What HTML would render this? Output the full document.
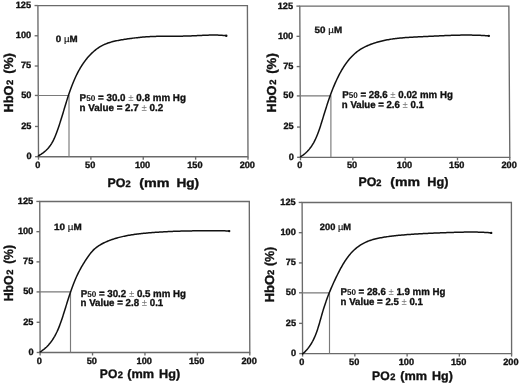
<!DOCTYPE html>
<html><head><meta charset="utf-8"><style>
html,body{margin:0;padding:0;background:#fff;}
svg{display:block;}
text{font-family:'Liberation Sans', sans-serif;text-rendering:geometricPrecision;font-weight:bold;fill:#111;stroke:#111;stroke-width:0.35px;stroke-linejoin:round;}
.tk{font-size:9.2px;}
.an{font-size:10px;}
.cn{font-size:9.2px;}
.ax{font-size:12.3px;}
.yt{font-size:13px;}
.sub{font-size:8.4px;font-weight:bold;stroke-width:0.05px;}
.s2{font-size:9.3px;}
.mu{font-weight:normal;stroke-width:0.15px;}
.pm{font-weight:normal;fill:#777;stroke:none;}
</style></head><body>
<svg width="520" height="384" viewBox="0 0 520 384">
<rect width="520" height="384" fill="#fff"/>
<path d="M37.90,5.55L38.50,156.70H248.00L247.40,5.55Z" fill="none" stroke="#6a6a6a" stroke-width="1.35" stroke-linejoin="miter"/>
<path d="M35.10,156.70H38.50" stroke="#6a6a6a" stroke-width="1.35"/>
<text id="p0y0" x="31.60" y="159.10" class="tk" text-anchor="end">0</text>
<path d="M34.98,126.47H38.38" stroke="#6a6a6a" stroke-width="1.35"/>
<text id="p0y25" x="31.48" y="128.87" class="tk" text-anchor="end">25</text>
<path d="M34.86,95.45H38.26" stroke="#6a6a6a" stroke-width="1.35"/>
<text id="p0y50" x="31.36" y="97.85" class="tk" text-anchor="end">50</text>
<path d="M34.74,66.01H38.14" stroke="#6a6a6a" stroke-width="1.35"/>
<text id="p0y75" x="31.24" y="68.41" class="tk" text-anchor="end">75</text>
<path d="M34.62,35.78H38.02" stroke="#6a6a6a" stroke-width="1.35"/>
<text id="p0y100" x="31.12" y="38.18" class="tk" text-anchor="end">100</text>
<path d="M34.50,5.55H37.90" stroke="#6a6a6a" stroke-width="1.35"/>
<text id="p0y125" x="31.00" y="7.95" class="tk" text-anchor="end">125</text>
<path d="M38.50,156.70V159.70" stroke="#6a6a6a" stroke-width="1.35"/>
<text id="p0x0" x="37.80" y="167.85" class="tk" text-anchor="middle">0</text>
<path d="M90.88,156.70V159.70" stroke="#6a6a6a" stroke-width="1.35"/>
<text id="p0x50" x="90.17" y="167.85" class="tk" text-anchor="middle">50</text>
<path d="M143.25,156.70V159.70" stroke="#6a6a6a" stroke-width="1.35"/>
<text id="p0x100" x="142.55" y="167.85" class="tk" text-anchor="middle">100</text>
<path d="M195.63,156.70V159.70" stroke="#6a6a6a" stroke-width="1.35"/>
<text id="p0x150" x="194.93" y="167.85" class="tk" text-anchor="middle">150</text>
<path d="M248.00,156.70V159.70" stroke="#6a6a6a" stroke-width="1.35"/>
<text id="p0x200" x="247.30" y="167.85" class="tk" text-anchor="middle">200</text>
<path d="M38.26,95.45H69.00V156.70" fill="none" stroke="#7a7a7a" stroke-width="1.15"/>
<polyline points="38.40,155.79 39.40,155.24 40.36,154.67 41.31,154.08 42.22,153.45 43.11,152.81 43.98,152.14 44.82,151.45 45.63,150.74 46.41,150.00 47.17,149.24 47.90,148.47 48.60,147.67 49.28,146.85 49.92,146.00 50.54,145.14 51.13,144.26 51.69,143.37 52.22,142.45 52.73,141.52 53.22,140.58 53.69,139.63 54.14,138.66 54.57,137.68 54.99,136.70 55.40,135.71 55.79,134.72 56.18,133.72 56.56,132.71 56.93,131.71 57.30,130.71 57.66,129.70 58.02,128.69 58.37,127.68 58.71,126.67 59.05,125.66 59.39,124.64 59.72,123.63 60.05,122.61 60.38,121.60 60.70,120.58 61.02,119.56 61.34,118.54 61.65,117.52 61.97,116.50 62.28,115.48 62.59,114.46 62.90,113.43 63.21,112.41 63.51,111.39 63.82,110.36 64.13,109.34 64.43,108.32 64.74,107.29 65.05,106.27 65.36,105.25 65.67,104.22 65.98,103.20 66.30,102.18 66.61,101.15 66.93,100.13 67.25,99.11 67.58,98.09 67.90,97.07 68.24,96.05 68.57,95.04 68.91,94.02 69.25,93.00 69.60,91.99 69.96,90.97 70.32,89.96 70.68,88.95 71.05,87.94 71.43,86.93 71.81,85.93 72.20,84.92 72.60,83.92 73.00,82.92 73.41,81.92 73.83,80.92 74.25,79.93 74.69,78.94 75.13,77.95 75.58,76.97 76.04,75.99 76.51,75.02 76.99,74.05 77.48,73.09 77.97,72.13 78.48,71.18 79.00,70.24 79.53,69.30 80.06,68.37 80.61,67.44 81.17,66.53 81.74,65.62 82.33,64.72 82.92,63.83 83.52,62.94 84.14,62.07 84.77,61.20 85.42,60.35 86.07,59.50 86.74,58.67 87.42,57.85 88.12,57.03 88.83,56.23 89.55,55.44 90.29,54.67 91.04,53.90 91.80,53.16 92.58,52.42 93.37,51.70 94.18,51.00 95.00,50.32 95.83,49.65 96.68,49.01 97.54,48.38 98.41,47.78 99.30,47.20 100.20,46.64 101.12,46.11 102.05,45.60 102.99,45.11 103.95,44.65 104.91,44.22 105.89,43.82 106.89,43.43 107.89,43.07 108.90,42.73 109.92,42.41 110.95,42.11 111.99,41.83 113.03,41.56 114.08,41.31 115.14,41.07 116.20,40.84 117.26,40.63 118.33,40.43 119.40,40.23 120.47,40.04 121.54,39.86 122.61,39.68 123.68,39.51 124.74,39.34 125.81,39.18 126.88,39.02 127.94,38.86 129.01,38.71 130.07,38.56 131.13,38.41 132.19,38.27 133.26,38.13 134.32,38.00 135.38,37.87 136.44,37.75 137.50,37.63 138.56,37.51 139.62,37.40 140.68,37.30 141.74,37.20 142.80,37.11 143.87,37.02 144.93,36.93 145.99,36.86 147.06,36.78 148.12,36.72 149.19,36.66 150.25,36.60 151.32,36.55 152.39,36.51 153.46,36.46 154.53,36.43 155.60,36.40 156.67,36.37 157.74,36.34 158.81,36.32 159.88,36.30 160.96,36.29 162.03,36.27 163.10,36.26 164.18,36.25 165.25,36.24 166.32,36.24 167.40,36.23 168.47,36.23 169.55,36.23 170.62,36.22 171.70,36.22 172.77,36.22 173.85,36.21 174.92,36.21 176.00,36.20 177.07,36.20 178.15,36.19 179.22,36.18 180.30,36.17 181.37,36.15 182.45,36.14 183.52,36.12 184.59,36.10 185.67,36.07 186.74,36.04 187.81,36.01 188.88,35.97 189.95,35.93 191.02,35.89 192.09,35.84 193.16,35.79 194.23,35.74 195.30,35.69 196.37,35.64 197.43,35.59 198.50,35.53 199.57,35.48 200.64,35.43 201.70,35.38 202.77,35.33 203.84,35.29 204.91,35.24 205.97,35.21 207.04,35.17 208.11,35.14 209.18,35.11 210.25,35.09 211.31,35.07 212.38,35.06 213.45,35.06 214.52,35.06 215.59,35.08 216.66,35.10 217.73,35.12 218.80,35.16 219.87,35.20 220.94,35.26 222.02,35.32 223.09,35.40 224.16,35.49 225.24,35.59 226.31,35.70" fill="none" stroke="#111" stroke-width="1.5" stroke-linejoin="round" stroke-linecap="round"/>
<circle cx="226.30" cy="35.75" r="1.2" fill="#111"/>
<text id="p0c" x="55.77" y="42.14" class="cn" textLength="21.89" lengthAdjust="spacingAndGlyphs">0 <tspan class="mu">µ</tspan>M</text>
<text id="p0a1" x="79.62" y="100.83" class="an" textLength="106.27" lengthAdjust="spacingAndGlyphs">P<tspan class="sub">50</tspan> = 30.0 <tspan class="pm">±</tspan> 0.8 mm Hg</text>
<text id="p0a2" x="79.52" y="111.26" class="an" textLength="83.77" lengthAdjust="spacingAndGlyphs">n Value = 2.7 <tspan class="pm">±</tspan> 0.2</text>
<text id="p0xtPO" x="107.43" y="186.68" class="ax" textLength="17.92" lengthAdjust="spacingAndGlyphs">PO</text>
<text id="p0xt2" x="125.44" y="186.68" class="ax s2">2</text>
<text id="p0xtmm" x="139.25" y="186.68" class="ax" textLength="30.31" lengthAdjust="spacingAndGlyphs">(mm</text>
<text id="p0xtHg" x="176.43" y="186.68" class="ax" textLength="22.76" lengthAdjust="spacingAndGlyphs">Hg)</text>
<text id="p0ytHb" x="-112.54" y="13.03" class="yt" textLength="27.00" lengthAdjust="spacingAndGlyphs" transform="rotate(-90)">HbO</text>
<text id="p0yt2" x="-85.05" y="13.03" class="yt s2" transform="rotate(-90)">2</text>
<text id="p0ytp" x="-73.78" y="13.03" class="yt" textLength="20.80" lengthAdjust="spacingAndGlyphs" transform="rotate(-90)">(%)</text>
<path d="M299.80,6.10L300.50,157.30H509.80L508.85,6.10Z" fill="none" stroke="#6a6a6a" stroke-width="1.35" stroke-linejoin="miter"/>
<path d="M297.10,157.30H300.50" stroke="#6a6a6a" stroke-width="1.35"/>
<text id="p1y0" x="293.80" y="159.70" class="tk" text-anchor="end">0</text>
<path d="M296.96,127.06H300.36" stroke="#6a6a6a" stroke-width="1.35"/>
<text id="p1y25" x="293.66" y="129.46" class="tk" text-anchor="end">25</text>
<path d="M296.82,95.90H300.22" stroke="#6a6a6a" stroke-width="1.35"/>
<text id="p1y50" x="293.52" y="98.30" class="tk" text-anchor="end">50</text>
<path d="M296.68,66.58H300.08" stroke="#6a6a6a" stroke-width="1.35"/>
<text id="p1y75" x="293.38" y="68.98" class="tk" text-anchor="end">75</text>
<path d="M296.54,36.34H299.94" stroke="#6a6a6a" stroke-width="1.35"/>
<text id="p1y100" x="293.24" y="38.74" class="tk" text-anchor="end">100</text>
<path d="M296.40,6.10H299.80" stroke="#6a6a6a" stroke-width="1.35"/>
<text id="p1y125" x="293.10" y="8.50" class="tk" text-anchor="end">125</text>
<path d="M300.50,157.30V160.30" stroke="#6a6a6a" stroke-width="1.35"/>
<text id="p1x0" x="299.80" y="168.45" class="tk" text-anchor="middle">0</text>
<path d="M352.82,157.30V160.30" stroke="#6a6a6a" stroke-width="1.35"/>
<text id="p1x50" x="352.12" y="168.45" class="tk" text-anchor="middle">50</text>
<path d="M405.15,157.30V160.30" stroke="#6a6a6a" stroke-width="1.35"/>
<text id="p1x100" x="404.45" y="168.45" class="tk" text-anchor="middle">100</text>
<path d="M457.48,157.30V160.30" stroke="#6a6a6a" stroke-width="1.35"/>
<text id="p1x150" x="456.78" y="168.45" class="tk" text-anchor="middle">150</text>
<path d="M509.80,157.30V160.30" stroke="#6a6a6a" stroke-width="1.35"/>
<text id="p1x200" x="509.10" y="168.45" class="tk" text-anchor="middle">200</text>
<path d="M300.22,95.90H330.90V157.30" fill="none" stroke="#7a7a7a" stroke-width="1.15"/>
<polyline points="300.61,156.74 301.57,156.13 302.49,155.49 303.38,154.84 304.24,154.16 305.08,153.46 305.88,152.74 306.66,152.00 307.41,151.25 308.13,150.47 308.83,149.68 309.51,148.87 310.16,148.04 310.79,147.20 311.39,146.34 311.98,145.47 312.54,144.58 313.09,143.68 313.62,142.77 314.13,141.84 314.62,140.91 315.10,139.96 315.56,139.00 316.00,138.03 316.43,137.06 316.85,136.07 317.26,135.08 317.66,134.08 318.04,133.08 318.41,132.07 318.78,131.05 319.14,130.03 319.49,129.00 319.83,127.97 320.17,126.94 320.50,125.91 320.83,124.88 321.15,123.84 321.47,122.80 321.79,121.77 322.11,120.73 322.43,119.70 322.74,118.67 323.06,117.64 323.38,116.61 323.69,115.58 324.01,114.55 324.33,113.53 324.65,112.50 324.96,111.48 325.28,110.46 325.60,109.43 325.93,108.41 326.25,107.40 326.58,106.38 326.90,105.36 327.23,104.35 327.57,103.34 327.90,102.33 328.24,101.32 328.58,100.31 328.92,99.30 329.27,98.29 329.62,97.29 329.98,96.29 330.34,95.29 330.70,94.29 331.07,93.29 331.44,92.29 331.82,91.30 332.21,90.31 332.59,89.31 332.99,88.32 333.39,87.34 333.79,86.35 334.21,85.36 334.62,84.38 335.05,83.40 335.48,82.42 335.92,81.44 336.37,80.47 336.82,79.49 337.28,78.52 337.75,77.55 338.22,76.58 338.71,75.62 339.20,74.66 339.71,73.70 340.22,72.75 340.74,71.80 341.27,70.86 341.81,69.93 342.37,69.00 342.93,68.08 343.50,67.16 344.09,66.26 344.68,65.36 345.29,64.47 345.91,63.59 346.54,62.72 347.19,61.85 347.84,61.00 348.51,60.16 349.20,59.34 349.89,58.52 350.60,57.72 351.33,56.93 352.07,56.16 352.82,55.41 353.59,54.67 354.37,53.95 355.17,53.24 355.98,52.56 356.81,51.89 357.65,51.25 358.51,50.63 359.38,50.03 360.27,49.45 361.18,48.89 362.10,48.35 363.03,47.83 363.97,47.33 364.92,46.85 365.88,46.39 366.85,45.95 367.83,45.52 368.82,45.10 369.81,44.70 370.80,44.32 371.80,43.95 372.80,43.59 373.80,43.25 374.81,42.91 375.83,42.60 376.84,42.29 377.86,41.99 378.89,41.71 379.91,41.44 380.94,41.18 381.98,40.93 383.01,40.69 384.05,40.47 385.09,40.25 386.14,40.04 387.19,39.84 388.24,39.65 389.29,39.47 390.34,39.30 391.40,39.13 392.46,38.98 393.52,38.83 394.58,38.69 395.64,38.55 396.71,38.42 397.77,38.30 398.84,38.19 399.91,38.08 400.98,37.98 402.06,37.88 403.13,37.79 404.21,37.70 405.28,37.62 406.36,37.54 407.43,37.46 408.51,37.39 409.59,37.32 410.67,37.26 411.75,37.20 412.83,37.14 413.90,37.08 414.98,37.02 416.06,36.97 417.14,36.92 418.22,36.87 419.30,36.82 420.37,36.76 421.45,36.71 422.53,36.66 423.60,36.61 424.68,36.56 425.75,36.51 426.82,36.46 427.89,36.40 428.96,36.35 430.03,36.30 431.10,36.24 432.17,36.19 433.24,36.14 434.31,36.09 435.38,36.03 436.44,35.98 437.51,35.93 438.58,35.88 439.64,35.83 440.71,35.78 441.77,35.73 442.84,35.68 443.90,35.64 444.97,35.59 446.03,35.55 447.10,35.51 448.16,35.47 449.22,35.43 450.29,35.39 451.35,35.35 452.42,35.32 453.48,35.29 454.54,35.25 455.61,35.23 456.67,35.20 457.74,35.18 458.80,35.15 459.87,35.14 460.93,35.12 462.00,35.10 463.07,35.09 464.13,35.08 465.20,35.08 466.27,35.08 467.34,35.08 468.40,35.08 469.47,35.09 470.54,35.10 471.61,35.11 472.69,35.13 473.76,35.15 474.83,35.17 475.90,35.20 476.98,35.24 478.05,35.27 479.13,35.31 480.21,35.36 481.29,35.41 482.36,35.46 483.45,35.52 484.53,35.58 485.61,35.65 486.69,35.72 487.78,35.79 488.86,35.88" fill="none" stroke="#111" stroke-width="1.5" stroke-linejoin="round" stroke-linecap="round"/>
<circle cx="488.80" cy="35.85" r="1.2" fill="#111"/>
<text id="p1c" x="314.61" y="33.03" class="cn" textLength="27.48" lengthAdjust="spacingAndGlyphs">50 <tspan class="mu">µ</tspan>M</text>
<text id="p1a1" x="342.17" y="97.64" class="an" textLength="110.66" lengthAdjust="spacingAndGlyphs">P<tspan class="sub">50</tspan> = 28.6 <tspan class="pm">±</tspan> 0.02 mm Hg</text>
<text id="p1a2" x="341.83" y="107.54" class="an" textLength="82.10" lengthAdjust="spacingAndGlyphs">n Value = 2.6 <tspan class="pm">±</tspan> 0.1</text>
<text id="p1xtPO" x="358.42" y="185.96" class="ax" textLength="17.88" lengthAdjust="spacingAndGlyphs">PO</text>
<text id="p1xt2" x="376.37" y="185.96" class="ax s2">2</text>
<text id="p1xtmm" x="390.22" y="185.96" class="ax" textLength="29.76" lengthAdjust="spacingAndGlyphs">(mm</text>
<text id="p1xtHg" x="427.37" y="185.96" class="ax" textLength="21.13" lengthAdjust="spacingAndGlyphs">Hg)</text>
<text id="p1ytHb" x="-112.54" y="276.03" class="yt" textLength="27.00" lengthAdjust="spacingAndGlyphs" transform="rotate(-90)">HbO</text>
<text id="p1yt2" x="-84.87" y="276.03" class="yt s2" transform="rotate(-90)">2</text>
<text id="p1ytp" x="-73.81" y="276.03" class="yt" textLength="20.59" lengthAdjust="spacingAndGlyphs" transform="rotate(-90)">(%)</text>
<path d="M39.75,201.45L40.10,352.50H249.80L249.30,201.45Z" fill="none" stroke="#6a6a6a" stroke-width="1.35" stroke-linejoin="miter"/>
<path d="M36.70,352.50H40.10" stroke="#6a6a6a" stroke-width="1.35"/>
<text id="p2y0" x="33.50" y="354.90" class="tk" text-anchor="end">0</text>
<path d="M36.63,322.29H40.03" stroke="#6a6a6a" stroke-width="1.35"/>
<text id="p2y25" x="33.43" y="324.69" class="tk" text-anchor="end">25</text>
<path d="M36.56,291.90H39.96" stroke="#6a6a6a" stroke-width="1.35"/>
<text id="p2y50" x="33.36" y="294.30" class="tk" text-anchor="end">50</text>
<path d="M36.49,261.87H39.89" stroke="#6a6a6a" stroke-width="1.35"/>
<text id="p2y75" x="33.29" y="264.27" class="tk" text-anchor="end">75</text>
<path d="M36.42,231.66H39.82" stroke="#6a6a6a" stroke-width="1.35"/>
<text id="p2y100" x="33.22" y="234.06" class="tk" text-anchor="end">100</text>
<path d="M36.35,201.45H39.75" stroke="#6a6a6a" stroke-width="1.35"/>
<text id="p2y125" x="33.15" y="203.85" class="tk" text-anchor="end">125</text>
<path d="M40.10,352.50V355.50" stroke="#6a6a6a" stroke-width="1.35"/>
<text id="p2x0" x="39.40" y="363.65" class="tk" text-anchor="middle">0</text>
<path d="M92.53,352.50V355.50" stroke="#6a6a6a" stroke-width="1.35"/>
<text id="p2x50" x="91.83" y="363.65" class="tk" text-anchor="middle">50</text>
<path d="M144.95,352.50V355.50" stroke="#6a6a6a" stroke-width="1.35"/>
<text id="p2x100" x="144.25" y="363.65" class="tk" text-anchor="middle">100</text>
<path d="M197.38,352.50V355.50" stroke="#6a6a6a" stroke-width="1.35"/>
<text id="p2x150" x="196.68" y="363.65" class="tk" text-anchor="middle">150</text>
<path d="M249.80,352.50V355.50" stroke="#6a6a6a" stroke-width="1.35"/>
<text id="p2x200" x="249.10" y="363.65" class="tk" text-anchor="middle">200</text>
<path d="M39.96,291.90H70.50V352.50" fill="none" stroke="#7a7a7a" stroke-width="1.15"/>
<polyline points="40.20,351.87 41.15,351.26 42.07,350.63 42.97,349.98 43.84,349.31 44.68,348.62 45.50,347.91 46.30,347.18 47.07,346.43 47.81,345.67 48.54,344.89 49.24,344.09 49.92,343.28 50.58,342.45 51.22,341.61 51.84,340.76 52.44,339.89 53.02,339.00 53.58,338.11 54.13,337.20 54.66,336.29 55.17,335.36 55.67,334.42 56.16,333.47 56.63,332.51 57.09,331.55 57.53,330.57 57.97,329.59 58.39,328.61 58.80,327.61 59.20,326.61 59.59,325.61 59.97,324.60 60.35,323.58 60.71,322.56 61.07,321.54 61.43,320.52 61.78,319.49 62.12,318.47 62.46,317.44 62.79,316.41 63.12,315.38 63.45,314.35 63.78,313.33 64.10,312.30 64.42,311.27 64.74,310.25 65.06,309.22 65.38,308.19 65.70,307.17 66.01,306.14 66.33,305.12 66.65,304.10 66.96,303.08 67.28,302.06 67.60,301.04 67.92,300.02 68.24,299.00 68.57,297.98 68.89,296.97 69.22,295.95 69.55,294.94 69.89,293.93 70.23,292.92 70.57,291.91 70.92,290.91 71.27,289.90 71.62,288.90 71.98,287.90 72.35,286.90 72.72,285.90 73.10,284.91 73.48,283.91 73.87,282.92 74.27,281.93 74.68,280.95 75.09,279.96 75.51,278.98 75.94,278.00 76.38,277.03 76.82,276.05 77.28,275.08 77.74,274.12 78.21,273.15 78.70,272.19 79.19,271.23 79.69,270.27 80.20,269.32 80.72,268.37 81.25,267.43 81.79,266.49 82.33,265.55 82.89,264.62 83.45,263.69 84.01,262.77 84.59,261.85 85.17,260.94 85.76,260.03 86.36,259.13 86.96,258.24 87.56,257.35 88.18,256.46 88.80,255.59 89.43,254.73 90.07,253.87 90.73,253.04 91.41,252.22 92.10,251.42 92.81,250.64 93.55,249.89 94.31,249.16 95.10,248.46 95.91,247.79 96.74,247.14 97.60,246.52 98.48,245.92 99.37,245.35 100.29,244.79 101.21,244.26 102.16,243.75 103.11,243.26 104.08,242.79 105.05,242.33 106.03,241.89 107.02,241.46 108.02,241.05 109.01,240.65 110.02,240.27 111.02,239.90 112.03,239.54 113.04,239.20 114.06,238.87 115.08,238.55 116.11,238.24 117.13,237.94 118.16,237.65 119.20,237.38 120.23,237.12 121.27,236.86 122.31,236.62 123.36,236.38 124.40,236.16 125.45,235.94 126.50,235.73 127.55,235.53 128.61,235.34 129.67,235.16 130.72,234.99 131.78,234.82 132.85,234.66 133.91,234.50 134.97,234.35 136.04,234.21 137.11,234.08 138.17,233.94 139.24,233.82 140.31,233.70 141.38,233.58 142.45,233.47 143.52,233.36 144.60,233.26 145.67,233.16 146.74,233.06 147.81,232.96 148.88,232.87 149.95,232.78 151.02,232.69 152.09,232.61 153.17,232.53 154.24,232.44 155.31,232.37 156.38,232.29 157.45,232.22 158.52,232.14 159.59,232.08 160.66,232.01 161.73,231.94 162.80,231.88 163.87,231.82 164.94,231.76 166.01,231.70 167.08,231.65 168.15,231.60 169.22,231.55 170.29,231.50 171.36,231.45 172.42,231.40 173.49,231.36 174.56,231.32 175.63,231.28 176.70,231.24 177.77,231.21 178.84,231.17 179.91,231.14 180.98,231.11 182.05,231.08 183.12,231.05 184.19,231.02 185.26,231.00 186.33,230.97 187.40,230.95 188.47,230.93 189.54,230.91 190.61,230.89 191.68,230.88 192.75,230.86 193.82,230.85 194.89,230.83 195.96,230.82 197.03,230.81 198.10,230.80 199.17,230.80 200.24,230.79 201.31,230.78 202.38,230.78 203.46,230.77 204.53,230.77 205.60,230.77 206.67,230.77 207.74,230.77 208.81,230.77 209.89,230.77 210.96,230.77 212.03,230.78 213.10,230.78 214.18,230.79 215.25,230.79 216.32,230.80 217.40,230.81 218.47,230.81 219.55,230.82 220.62,230.83 221.70,230.84 222.77,230.85 223.85,230.86 224.92,230.87 226.00,230.88 227.07,230.89 228.15,230.91 229.23,230.92" fill="none" stroke="#111" stroke-width="1.5" stroke-linejoin="round" stroke-linecap="round"/>
<circle cx="229.20" cy="231.10" r="1.2" fill="#111"/>
<text id="p2c" x="53.93" y="229.57" class="cn" textLength="27.74" lengthAdjust="spacingAndGlyphs">10 <tspan class="mu">µ</tspan>M</text>
<text id="p2a1" x="80.66" y="297.19" class="an" textLength="105.40" lengthAdjust="spacingAndGlyphs">P<tspan class="sub">50</tspan> = 30.2 <tspan class="pm">±</tspan> 0.5 mm Hg</text>
<text id="p2a2" x="80.50" y="306.37" class="an" textLength="82.77" lengthAdjust="spacingAndGlyphs">n Value = 2.8 <tspan class="pm">±</tspan> 0.1</text>
<text id="p2xtPO" x="99.85" y="378.24" class="ax" textLength="17.42" lengthAdjust="spacingAndGlyphs">PO</text>
<text id="p2xt2" x="117.65" y="378.24" class="ax s2">2</text>
<text id="p2xtmm" x="127.35" y="378.24" class="ax" textLength="26.83" lengthAdjust="spacingAndGlyphs">(mm</text>
<text id="p2xtHg" x="159.02" y="378.24" class="ax" textLength="21.12" lengthAdjust="spacingAndGlyphs">Hg)</text>
<text id="p2ytHb" x="-301.27" y="13.45" class="yt" textLength="25.78" lengthAdjust="spacingAndGlyphs" transform="rotate(-90)">HbO</text>
<text id="p2yt2" x="-274.77" y="13.45" class="yt s2" transform="rotate(-90)">2</text>
<text id="p2ytp" x="-263.67" y="13.45" class="yt" textLength="18.58" lengthAdjust="spacingAndGlyphs" transform="rotate(-90)">(%)</text>
<path d="M302.10,202.45L302.60,353.60H511.60L511.40,202.45Z" fill="none" stroke="#6a6a6a" stroke-width="1.35" stroke-linejoin="miter"/>
<path d="M299.20,353.60H302.60" stroke="#6a6a6a" stroke-width="1.35"/>
<text id="p3y0" x="296.20" y="356.00" class="tk" text-anchor="end">0</text>
<path d="M299.10,323.37H302.50" stroke="#6a6a6a" stroke-width="1.35"/>
<text id="p3y25" x="296.10" y="325.77" class="tk" text-anchor="end">25</text>
<path d="M299.00,292.80H302.40" stroke="#6a6a6a" stroke-width="1.35"/>
<text id="p3y50" x="296.00" y="295.20" class="tk" text-anchor="end">50</text>
<path d="M298.90,262.91H302.30" stroke="#6a6a6a" stroke-width="1.35"/>
<text id="p3y75" x="295.90" y="265.31" class="tk" text-anchor="end">75</text>
<path d="M298.80,232.68H302.20" stroke="#6a6a6a" stroke-width="1.35"/>
<text id="p3y100" x="295.80" y="235.08" class="tk" text-anchor="end">100</text>
<path d="M298.70,202.45H302.10" stroke="#6a6a6a" stroke-width="1.35"/>
<text id="p3y125" x="295.70" y="204.85" class="tk" text-anchor="end">125</text>
<path d="M302.60,353.60V356.60" stroke="#6a6a6a" stroke-width="1.35"/>
<text id="p3x0" x="301.90" y="364.75" class="tk" text-anchor="middle">0</text>
<path d="M354.85,353.60V356.60" stroke="#6a6a6a" stroke-width="1.35"/>
<text id="p3x50" x="354.15" y="364.75" class="tk" text-anchor="middle">50</text>
<path d="M407.10,353.60V356.60" stroke="#6a6a6a" stroke-width="1.35"/>
<text id="p3x100" x="406.40" y="364.75" class="tk" text-anchor="middle">100</text>
<path d="M459.35,353.60V356.60" stroke="#6a6a6a" stroke-width="1.35"/>
<text id="p3x150" x="458.65" y="364.75" class="tk" text-anchor="middle">150</text>
<path d="M511.60,353.60V356.60" stroke="#6a6a6a" stroke-width="1.35"/>
<text id="p3x200" x="510.90" y="364.75" class="tk" text-anchor="middle">200</text>
<path d="M302.40,292.80H329.50V353.60" fill="none" stroke="#7a7a7a" stroke-width="1.15"/>
<polyline points="302.65,353.88 303.49,353.14 304.31,352.39 305.10,351.62 305.86,350.83 306.60,350.03 307.30,349.21 307.99,348.38 308.65,347.53 309.28,346.67 309.89,345.80 310.48,344.91 311.05,344.02 311.59,343.11 312.12,342.19 312.63,341.26 313.12,340.31 313.59,339.36 314.05,338.40 314.49,337.43 314.91,336.45 315.32,335.47 315.72,334.47 316.11,333.47 316.48,332.47 316.84,331.45 317.20,330.43 317.54,329.41 317.87,328.38 318.20,327.35 318.52,326.31 318.83,325.27 319.14,324.23 319.45,323.18 319.75,322.13 320.05,321.08 320.34,320.03 320.64,318.98 320.93,317.93 321.23,316.88 321.52,315.83 321.82,314.78 322.12,313.73 322.42,312.69 322.73,311.65 323.05,310.61 323.36,309.57 323.68,308.54 324.01,307.50 324.34,306.48 324.68,305.45 325.02,304.43 325.36,303.40 325.71,302.39 326.06,301.37 326.42,300.36 326.79,299.35 327.15,298.34 327.53,297.33 327.90,296.33 328.29,295.33 328.67,294.33 329.06,293.33 329.46,292.34 329.86,291.35 330.27,290.36 330.68,289.37 331.10,288.39 331.52,287.41 331.94,286.42 332.37,285.45 332.81,284.47 333.25,283.49 333.69,282.52 334.14,281.54 334.60,280.57 335.05,279.60 335.52,278.63 335.99,277.66 336.46,276.68 336.93,275.72 337.41,274.75 337.90,273.78 338.39,272.81 338.88,271.84 339.39,270.87 339.89,269.90 340.40,268.94 340.92,267.98 341.45,267.02 341.98,266.07 342.53,265.13 343.08,264.19 343.64,263.25 344.21,262.33 344.80,261.41 345.39,260.50 346.00,259.60 346.61,258.71 347.24,257.83 347.89,256.96 348.55,256.11 349.22,255.26 349.90,254.43 350.60,253.62 351.32,252.82 352.06,252.03 352.80,251.27 353.57,250.51 354.35,249.78 355.15,249.06 355.96,248.37 356.79,247.69 357.63,247.03 358.49,246.39 359.36,245.78 360.25,245.19 361.15,244.62 362.06,244.07 362.99,243.55 363.93,243.05 364.89,242.58 365.85,242.13 366.83,241.70 367.82,241.30 368.82,240.92 369.83,240.56 370.85,240.22 371.88,239.89 372.91,239.59 373.95,239.30 375.00,239.02 376.05,238.77 377.11,238.52 378.17,238.29 379.24,238.07 380.31,237.86 381.38,237.66 382.45,237.47 383.52,237.29 384.59,237.11 385.66,236.94 386.74,236.78 387.81,236.63 388.88,236.48 389.96,236.34 391.03,236.20 392.11,236.07 393.18,235.94 394.25,235.82 395.33,235.70 396.40,235.59 397.48,235.48 398.55,235.37 399.63,235.27 400.70,235.17 401.77,235.07 402.85,234.98 403.92,234.88 405.00,234.79 406.07,234.71 407.15,234.62 408.22,234.54 409.30,234.46 410.37,234.38 411.45,234.30 412.52,234.23 413.60,234.16 414.67,234.09 415.75,234.02 416.82,233.95 417.90,233.89 418.97,233.83 420.05,233.77 421.12,233.71 422.20,233.65 423.27,233.59 424.35,233.54 425.43,233.49 426.50,233.43 427.58,233.38 428.65,233.33 429.73,233.29 430.81,233.24 431.88,233.19 432.96,233.15 434.04,233.10 435.11,233.06 436.19,233.02 437.27,232.98 438.35,232.93 439.42,232.89 440.50,232.85 441.58,232.81 442.66,232.78 443.74,232.74 444.81,232.70 445.89,232.66 446.97,232.62 448.05,232.59 449.13,232.55 450.21,232.51 451.29,232.47 452.37,232.44 453.45,232.40 454.53,232.37 455.61,232.33 456.69,232.30 457.77,232.27 458.85,232.24 459.93,232.21 461.01,232.18 462.09,232.16 463.17,232.13 464.25,232.11 465.33,232.10 466.41,232.08 467.49,232.07 468.57,232.06 469.65,232.05 470.73,232.05 471.81,232.05 472.89,232.05 473.97,232.06 475.05,232.07 476.13,232.09 477.21,232.11 478.29,232.13 479.36,232.16 480.44,232.20 481.52,232.23 482.60,232.28 483.67,232.33 484.75,232.38 485.83,232.44 486.90,232.51 487.98,232.58 489.05,232.66 490.12,232.74 491.20,232.83" fill="none" stroke="#111" stroke-width="1.5" stroke-linejoin="round" stroke-linecap="round"/>
<circle cx="491.20" cy="232.90" r="1.2" fill="#111"/>
<text id="p3c" x="319.80" y="229.64" class="cn" textLength="31.22" lengthAdjust="spacingAndGlyphs">200 <tspan class="mu">µ</tspan>M</text>
<text id="p3a1" x="340.48" y="294.82" class="an" textLength="104.87" lengthAdjust="spacingAndGlyphs">P<tspan class="sub">50</tspan> = 28.6 <tspan class="pm">±</tspan> 1.9 mm Hg</text>
<text id="p3a2" x="340.60" y="304.72" class="an" textLength="82.31" lengthAdjust="spacingAndGlyphs">n Value = 2.5 <tspan class="pm">±</tspan> 0.1</text>
<text id="p3xtPO" x="372.08" y="380.19" class="ax" textLength="17.55" lengthAdjust="spacingAndGlyphs">PO</text>
<text id="p3xt2" x="390.37" y="380.19" class="ax s2">2</text>
<text id="p3xtmm" x="400.31" y="380.19" class="ax" textLength="26.84" lengthAdjust="spacingAndGlyphs">(mm</text>
<text id="p3xtHg" x="432.05" y="380.19" class="ax" textLength="20.78" lengthAdjust="spacingAndGlyphs">Hg)</text>
<text id="p3ytHb" x="-302.63" y="274.30" class="yt" textLength="27.84" lengthAdjust="spacingAndGlyphs" transform="rotate(-90)">HbO</text>
<text id="p3yt2" x="-275.05" y="274.30" class="yt s2" transform="rotate(-90)">2</text>
<text id="p3ytp" x="-265.93" y="274.30" class="yt" textLength="19.12" lengthAdjust="spacingAndGlyphs" transform="rotate(-90)">(%)</text>
</svg>
</body></html>
